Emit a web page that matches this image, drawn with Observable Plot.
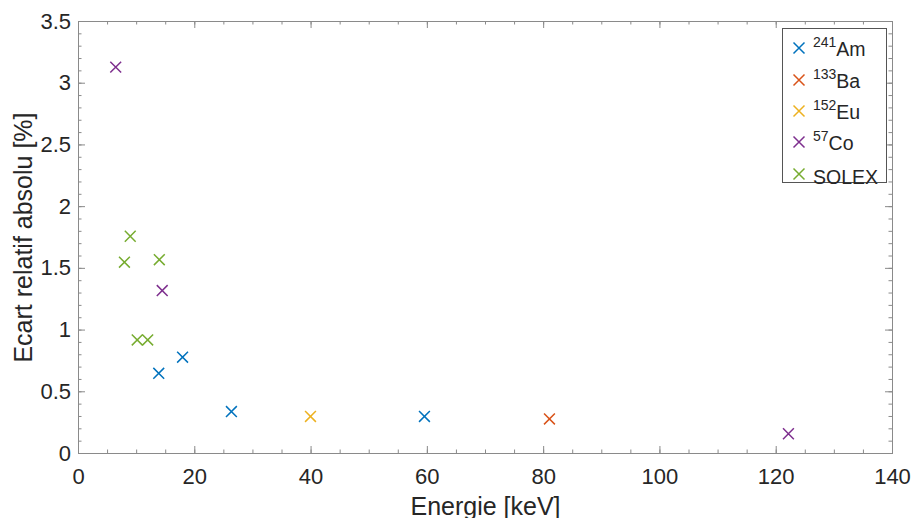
<!DOCTYPE html>
<html>
<head>
<meta charset="utf-8">
<script src="https://cdn.jsdelivr.net/npm/d3@7"></script>
<script src="https://cdn.jsdelivr.net/npm/@observablehq/plot@0.6"></script>
<style>
  html, body { margin: 0; padding: 0; background: #fff; }
  #wrap { position: relative; width: 911px; height: 518px; font-family: "Liberation Sans", Arial, Helvetica, sans-serif; color: #262626; }
  #legend { position: absolute; left: 782px; top: 28px; width: 105px; height: 155px; border: 1px solid #555; background: #fff; box-sizing: border-box; }
  .row { position: absolute; left: 0; height: 20px; width: 100%; }
  .row svg { position: absolute; left: 9px; top: 2px; }
  .row .lab { position: absolute; left: 30px; bottom: -2px; font-size: 19.5px; line-height: 19px; white-space: nowrap; }
  .row sup { font-size: 14px; vertical-align: 0; position: relative; top: -9px; }
</style>
</head>
<body>
<div id="wrap"></div>
<script>
// ---- data ----
const seriesNames = ["241Am", "133Ba", "152Eu", "57Co", "SOLEX"];
const seriesSup = ["241", "133", "152", "57", ""];
const seriesBase = ["Am", "Ba", "Eu", "Co", "SOLEX"];
const seriesColors = ["#0072BD", "#D95319", "#EDB120", "#7E2F8E", "#77AC30"];

const amEnergy = [13.8, 17.9, 26.3, 59.5];
const amEcart = [0.65, 0.78, 0.34, 0.30];
const baEnergy = [81.0];
const baEcart = [0.28];
const euEnergy = [39.9];
const euEcart = [0.30];
const coEnergy = [6.4, 14.4, 122.1];
const coEcart = [3.13, 1.32, 0.16];
const solexEnergy = [7.9, 8.9, 10.1, 11.9, 13.9];
const solexEcart = [1.55, 1.76, 0.92, 0.92, 1.57];

const xMajor = [0, 20, 40, 60, 80, 100, 120, 140];
const yMajor = [0, 0.5, 1, 1.5, 2, 2.5, 3, 3.5];
const yMajorLabels = ["0", "0.5", "1", "1.5", "2", "2.5", "3", "3.5"];
const xMinor = d3.range(0, 141, 5);
const yMinor = d3.range(0, 36).map(i => i / 10);

// ---- build table ----
const groups = [
  [amEnergy, amEcart], [baEnergy, baEcart], [euEnergy, euEcart],
  [coEnergy, coEcart], [solexEnergy, solexEcart]
];
const points = [];
groups.forEach(([xs, ys], i) => xs.forEach((x, j) => points.push({series: seriesNames[i], x, y: ys[j]})));

const W = 911, H = 518;
const mL = 78, mR = 19, mT = 21, mB = 65;
const innerH = H - mT - mB, innerW = W - mL - mR;
const majorLen = 7, minorLen = 3.5;
const axisColor = "#8a8a8a";

const plot = Plot.plot({
  width: W, height: H,
  marginLeft: mL, marginRight: mR, marginTop: mT, marginBottom: mB,
  style: {fontFamily: '"Liberation Sans", Arial, Helvetica, sans-serif', color: "#262626", background: "#fff"},
  x: {domain: [0, 140]},
  y: {domain: [0, 3.5]},
  color: {domain: seriesNames, range: seriesColors},
  marks: [
    // minor ticks
    Plot.tickX(xMinor, {x: d => d, insetTop: innerH - minorLen, stroke: axisColor}),
    Plot.tickX(xMinor, {x: d => d, insetBottom: innerH - minorLen, stroke: axisColor}),
    Plot.tickY(yMinor, {y: d => d, insetRight: innerW - minorLen, stroke: axisColor}),
    Plot.tickY(yMinor, {y: d => d, insetLeft: innerW - minorLen, stroke: axisColor}),
    // major ticks
    Plot.tickX(xMajor, {x: d => d, insetTop: innerH - majorLen, stroke: axisColor}),
    Plot.tickX(xMajor, {x: d => d, insetBottom: innerH - majorLen, stroke: axisColor}),
    Plot.tickY(yMajor, {y: d => d, insetRight: innerW - majorLen, stroke: axisColor}),
    Plot.tickY(yMajor, {y: d => d, insetLeft: innerW - majorLen, stroke: axisColor}),
    Plot.frame({stroke: axisColor}),
    Plot.axisX(xMajor, {tickSize: 0, tickPadding: 15, fontSize: 22, label: null, fill: "#262626"}),
    Plot.axisY(yMajor, {tickSize: 0, tickPadding: 7.5, fontSize: 22, label: null, fill: "#262626",
      tickFormat: d => yMajorLabels[yMajor.indexOf(d)]}),
    Plot.text(["Energie [keV]"], {frameAnchor: "bottom", text: d => d, dy: 53, fontSize: 25, textAnchor: "middle", lineAnchor: "middle", fill: "#262626"}),
    Plot.text(["Ecart relatif absolu [%]"], {frameAnchor: "left", text: d => d, dx: -55, rotate: -90, fontSize: 25, textAnchor: "middle", lineAnchor: "middle", fill: "#262626"}),
    Plot.dot(points, {x: "x", y: "y", stroke: "series", symbol: "times", r: 5, strokeWidth: 1.5})
  ]
});

const wrap = document.getElementById("wrap");
wrap.appendChild(plot);

// ---- legend ----
const legend = document.createElement("div");
legend.id = "legend";
const rowTops = [10, 42, 73, 104, 136];
seriesNames.forEach((name, i) => {
  const row = document.createElement("div");
  row.className = "row";
  row.style.top = rowTops[i] + "px";
  const c = seriesColors[i];
  row.innerHTML = `<svg width="14" height="14" viewBox="-7 -7 14 14"><path d="M-5.5,-5.5L5.5,5.5M-5.5,5.5L5.5,-5.5" stroke="${c}" stroke-width="1.5" fill="none"/></svg>` +
    `<span class="lab">${seriesSup[i] ? `<sup>${seriesSup[i]}</sup>` : ""}${seriesBase[i]}</span>`;
  legend.appendChild(row);
});
wrap.appendChild(legend);
</script>
</body>
</html>
